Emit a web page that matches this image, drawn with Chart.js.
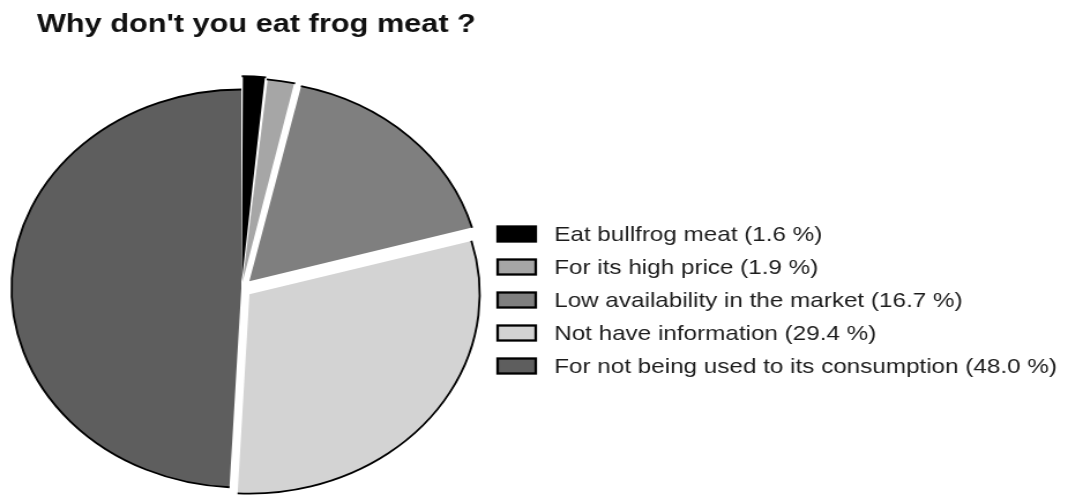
<!DOCTYPE html>
<html>
<head>
<meta charset="utf-8">
<title>Why don't you eat frog meat ?</title>
<script src="https://cdn.jsdelivr.net/npm/chart.js@4.4.1/dist/chart.umd.min.js"></script>
<style>
  html,body{margin:0;padding:0;background:#fff;overflow:hidden;}
  #chartFrog{display:block;}
</style>
</head>
<body>
<!-- drawn at 925px wide and stretched to 1068px, so the pie comes out oval -->
<canvas id="chartFrog" width="925" height="496" style="width:1068px;height:496px;"></canvas>
<script>
// ================= DATA =================
const title = "Why don't you eat frog meat ?";
const reasons = [
  "Eat bullfrog meat",
  "For its high price",
  "Low availability in the market",
  "Not have information",
  "For not being used to its consumption"
];
const percents = [1.6, 1.9, 16.7, 29.4, 48.0];

// ================= STYLE =================
const fills = ["#000000", "#a6a6a6", "#7f7f7f", "#d3d3d3", "#5e5e5e"];
const explode = [28, 24, 40, 36, 0];
const FONT = "'Liberation Sans', Arial, sans-serif";

// black rim on the outer arc only (radial edges stay open/white)
const rim = {
  id: "rim",
  afterDatasetsDraw(chart){
    const ctx = chart.ctx;
    chart.getDatasetMeta(0).data.forEach(arc=>{
      const {x, y, startAngle, endAngle, outerRadius} = arc;
      const o = (arc.options.offset || 0) / 4;           // same shift ArcElement uses
      const mid = (startAngle + endAngle) / 2;
      const fix = 1 - Math.sin(Math.min(Math.PI, endAngle - startAngle));
      ctx.save();
      ctx.beginPath();
      ctx.arc(x + Math.cos(mid)*o, y + Math.sin(mid)*o, outerRadius + o*fix, startAngle, endAngle);
      ctx.lineWidth = 1.8; ctx.strokeStyle = "#000"; ctx.stroke();
      ctx.restore();
    });
  }
};

// title + legend on the right
const captions = {
  id: "captions",
  afterDraw(chart){
    const ctx = chart.ctx;
    const bg = chart.data.datasets[0].backgroundColor;
    ctx.save();
    ctx.textBaseline = "alphabetic";
    ctx.fillStyle = "#111";
    ctx.font = "bold 26.6px " + FONT;
    ctx.fillText(title, 32, 32);
    ctx.font = "21px " + FONT;
    reasons.forEach((r, i)=>{
      const cy = 234 + i*33;
      ctx.fillStyle = bg[i]; ctx.fillRect(431, cy - 7.5, 33, 15);
      ctx.lineWidth = 2.3; ctx.strokeStyle = "#000"; ctx.strokeRect(431, cy - 7.5, 33, 15);
      ctx.fillStyle = "#1c1c1c";
      ctx.fillText(`${r} (${percents[i].toFixed(1)} %)`, 480, cy + 7);
    });
    ctx.restore();
  }
};

new Chart(document.getElementById("chartFrog"), {
  type: "pie",
  data: {
    labels: reasons,
    datasets: [{
      data: percents,
      backgroundColor: fills,
      borderWidth: 0,
      offset: explode,
      radius: 199
    }]
  },
  options: {
    responsive: false,
    devicePixelRatio: 1,
    animation: false,
    events: [],
    layout: {padding: {top: 81, bottom: 0, left: 0, right: 507}},
    plugins: {legend: {display: false}, tooltip: {enabled: false}, title: {display: false}}
  },
  plugins: [rim, captions]
});
</script>
</body>
</html>
